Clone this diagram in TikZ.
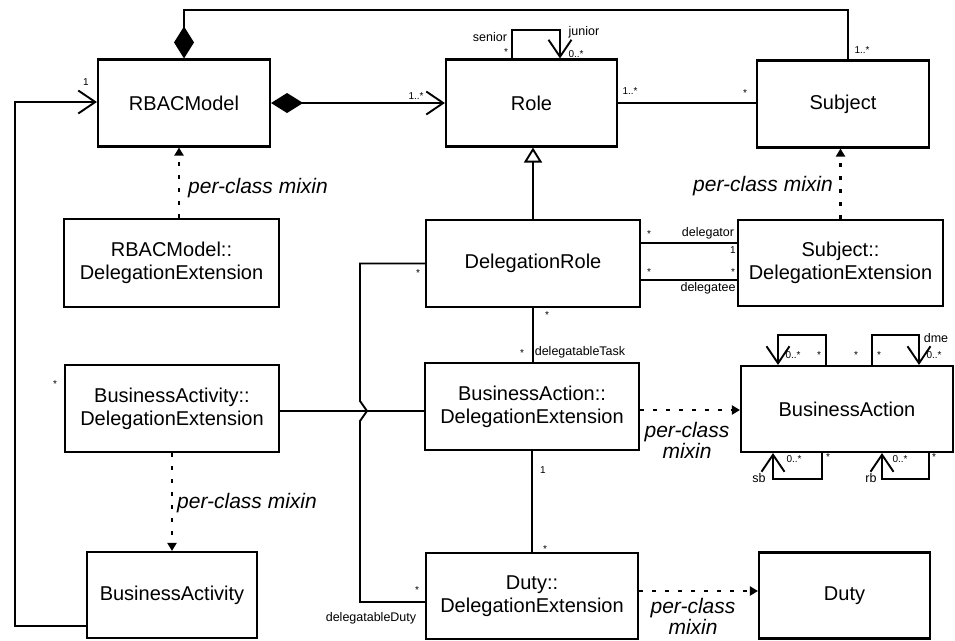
\documentclass[tikz,border=0pt]{standalone}
\usepackage{fontspec}
\setmainfont{Liberation Sans}
\usetikzlibrary{arrows.meta}
\begin{document}
\begin{tikzpicture}[x=1pt,y=-1pt,line width=1.9pt,
        cls/.style={draw,line width=2.1pt,align=center,inner sep=0pt,
            font=\fontsize{20}{23}\selectfont},
        mult/.style={inner sep=0pt,font=\fontsize{10}{12}\selectfont},
        rname/.style={inner sep=0pt,font=\fontsize{12.5}{14}\selectfont},
        mixtext/.style={inner sep=0pt,align=center,
            font=\fontsize{21}{21}\selectfont\itshape},
        mixin/.style={line width=2.2pt,dash pattern=on 4pt off 9pt,
            -{Triangle[length=8pt,width=9pt]}},
        comp/.style={{Diamond[length=32pt,width=20pt]}-},
        compnav/.style={{Diamond[length=32pt,width=20pt]}->},
        gen/.style={-{Triangle[open,length=15pt,width=18pt,fill=white]}},
        >={Straight Barb[length=17pt,width=23pt]}]
\useasboundingbox (0,0) rectangle (955,640);

\node[cls,minimum width=172pt,minimum height=87pt] (rbac) at (184,103) {RBACModel};
\node[cls,minimum width=171pt,minimum height=87pt] (role) at (531.5,103) {Role};
\node[cls,minimum width=172pt,minimum height=87pt] (subject) at (843,104) {Subject};
\node[cls,minimum width=215pt,minimum height=88pt] (rbacext) at (171.5,263) {RBACModel::\\DelegationExtension};
\node[cls,minimum width=214pt,minimum height=87pt] (delrole) at (533,263.5) {DelegationRole};
\node[cls,minimum width=205pt,minimum height=86pt] (subjext) at (840.5,263) {Subject::\\DelegationExtension};
\node[cls,minimum width=214pt,minimum height=87pt] (bactivityext) at (172,408.5) {BusinessActivity::\\DelegationExtension};
\node[cls,minimum width=214pt,minimum height=87pt] (bactionext) at (532,406.5) {BusinessAction::\\DelegationExtension};
\node[cls,minimum width=212pt,minimum height=86pt] (baction) at (847,409) {BusinessAction};
\node[cls,minimum width=170pt,minimum height=86pt] (bactivity) at (172,595) {BusinessActivity};
\node[cls,minimum width=212pt,minimum height=86pt] (dutyext) at (532,596) {Duty::\\DelegationExtension};
\node[cls,minimum width=171pt,minimum height=86pt] (duty) at (844.5,595.5) {Duty};

\draw[comp] (rbac.north) |- (848,10) -- (848,0 |- subject.north);
\draw[compnav] (rbac.east) -- (role.west);
\draw[->] (512,0 |- role.north) |- (560,30) -- (560,0 |- role.north);
\draw (role.east) -- (subject.west |- role.east);
\draw[gen] (delrole.north) -- (delrole.north |- role.south);
\draw[mixin] (179,0 |- rbacext.north) -- (179,0 |- rbac.south);
\draw[mixin] (subjext.north) -- (subjext.north |- subject.south);
\draw (delrole.east |- 0,243) -- (subjext.west |- 0,243);
\draw (delrole.east |- 0,280) -- (subjext.west |- 0,280);
\draw (delrole.south) -- (delrole.south |- bactionext.north);
\draw (bactionext.south) -- (dutyext.north);
\draw (bactivityext.east |- 0,411) -- (bactionext.west |- 0,411);
\draw (delrole.west) -| (360,401) -- (367,411) -- (360,421) |- (dutyext.west |- 0,602);
\draw[->] (bactivity.west |- 0,626) -| (15,102) -- (rbac.west |- 0,102);
\draw[mixin] (bactivityext.south) -- (bactivityext.south |- bactivity.north);
\draw[mixin] (bactionext.east |- 0,410) -- (baction.west |- 0,410);
\draw[mixin] (dutyext.east |- 0,591) -- (duty.west |- 0,591);
\draw[->] (826,0 |- baction.north) |- (778,335) -- (778,0 |- baction.north);
\draw[->] (872,0 |- baction.north) |- (919,335) -- (919,0 |- baction.north);
\draw[->] (822,0 |- baction.south) |- (773,479) -- (773,0 |- baction.south);
\draw[->] (929,0 |- baction.south) |- (882,479) -- (882,0 |- baction.south);

\node[mult] (m-subj-top) at (862,50) {1..*};
\node[mult] (m-senior) at (506,52) {*};
\node[mult] (m-junior) at (576,54) {0..*};
\node[mult] (m-rbac-role) at (416,96) {1..*};
\node[mult] (m-rbac-left) at (86,82) {1};
\node[mult] (m-role-subj) at (630,91) {1..*};
\node[mult] (m-subj-role) at (745,93) {*};
\node[mult] (m-dr-tor) at (649,234) {*};
\node[mult] (m-se-tor) at (733,250) {1};
\node[mult] (m-dr-tee) at (649,272) {*};
\node[mult] (m-se-tee) at (733,272) {*};
\node[mult] (m-dr-left) at (418,273) {*};
\node[mult] (m-dr-bottom) at (547,315) {*};
\node[mult] (m-task) at (522,353) {*};
\node[mult] (m-activity) at (55,384) {*};
\node[mult] (m-bae-duty) at (543,470) {1};
\node[mult] (m-duty-bae) at (545,549) {*};
\node[mult] (m-duty-left) at (417,590) {*};
\node[mult] (m-ba-1) at (793,355) {0..*};
\node[mult] (m-ba-2) at (819,355) {*};
\node[mult] (m-ba-3) at (856,355) {*};
\node[mult] (m-ba-4) at (879,355) {*};
\node[mult] (m-ba-5) at (934,355) {0..*};
\node[mult] (m-ba-6) at (794,459) {0..*};
\node[mult] (m-ba-7) at (828,457) {*};
\node[mult] (m-ba-8) at (900,459) {0..*};
\node[mult] (m-ba-9) at (934,457) {*};

\node[rname] (r-senior) at (490,37) {senior};
\node[rname] (r-junior) at (584,32) {junior};
\node[rname] (r-delegator) at (708,233) {delegator};
\node[rname] (r-delegatee) at (708,288) {delegatee};
\node[rname] (r-task) at (580,352) {delegatableTask};
\node[rname] (r-duty) at (371,618) {delegatableDuty};
\node[rname] (r-dme) at (936,338) {dme};
\node[rname] (r-sb) at (759,478) {sb};
\node[rname] (r-rb) at (871,478) {rb};

\node[mixtext] (x-rbac) at (258,188) {per-class mixin};
\node[mixtext] (x-subject) at (763,186) {per-class mixin};
\node[mixtext] (x-activity) at (247,503) {per-class mixin};
\node[mixtext] (x-action) at (687,440) {per-class\\mixin};
\node[mixtext] (x-duty) at (693,616) {per-class\\mixin};
\end{tikzpicture}
\end{document}
